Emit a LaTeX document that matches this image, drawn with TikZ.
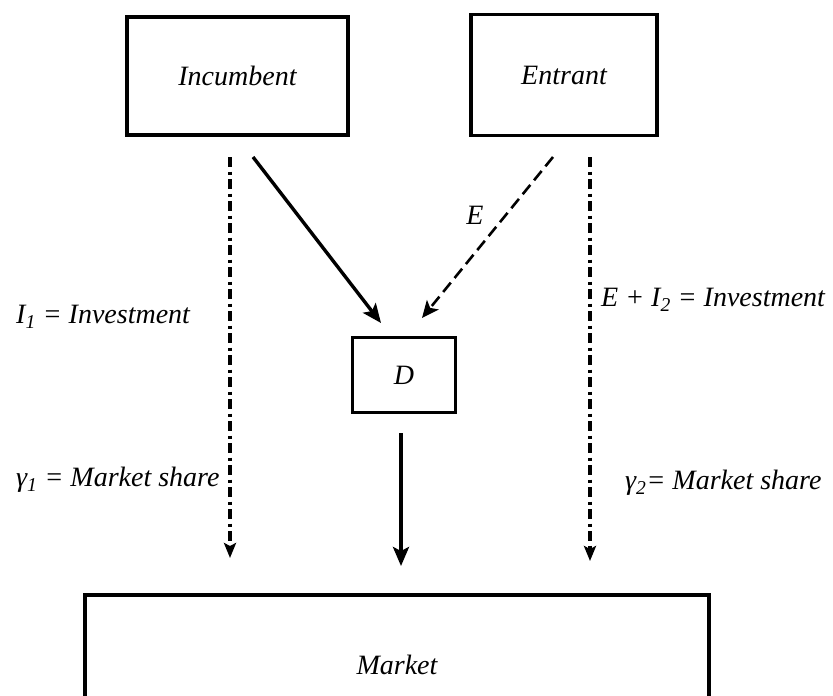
\documentclass[tikz,border=0pt]{standalone}
\usepackage{fontspec}
\setmainfont{Liberation Serif}
\usetikzlibrary{arrows.meta,positioning}

\begin{document}
\begin{tikzpicture}[>=Stealth,x=1pt,y=-1pt,font=\fontsize{28}{32}\selectfont\itshape]
 \tikzstyle{agent}=[rectangle,draw=black,line width=3.6pt,inner sep=0pt]
 \tikzstyle{flowlab}=[inner sep=0pt,anchor=west]
 \tikzstyle{flow}=[line width=3.4pt,-{Stealth[length=19pt,width=16pt,inset=4pt]}]
 \tikzstyle{share}=[line width=3.2pt,dash pattern=on 10pt off 4.5pt on 3pt off 4.5pt,-{Stealth[length=15pt,width=12pt,inset=3pt]}]
 \tikzstyle{entry}=[line width=2.6pt,dash pattern=on 12pt off 6pt,-{Stealth[length=17pt,width=15pt,inset=4pt]}]
 \clip (0,0) rectangle (833,696);
 \node[agent,minimum width=221pt,minimum height=118pt] (inc) at (237.5,76) {Incumbent};
 \node[agent,minimum width=186pt,minimum height=121pt] (ent) at (564,75) {Entrant};
 \node[agent,minimum width=103pt,minimum height=75pt] (dbox) at (404,375) {D};
 \node[agent,minimum width=624pt,minimum height=140pt] (market) at (397,665) {Market};
 \coordinate (shareL) at (230,157);
 \coordinate (shareLend) at (230,558);
 \coordinate (shareR) at (590,157);
 \coordinate (shareRend) at (590,561);
 \coordinate (incout) at (253,157);
 \coordinate (incin) at (381,323);
 \coordinate (entout) at (553,157);
 \coordinate (entin) at (422,318);
 \coordinate (dout) at (401,433);
 \coordinate (din) at (401,566);
 \node[flowlab] (invI) at (16,317) {I\textsubscript{1} = Investment};
 \node[flowlab] (shareI) at (16,480) {γ\textsubscript{1} = Market share};
 \node[flowlab] (invE) at (601,300) {E + I\textsubscript{2} = Investment};
 \node[flowlab] (shareE) at (625,483) {γ\textsubscript{2}= Market share};
 \node[inner sep=0pt] (elab) at (475,215) {E};
 \draw[share] (shareL) -- (shareLend);
 \draw[share] (shareR) -- (shareRend);
 \draw[flow] (incout) -- (incin);
 \draw[entry] (entout) -- (entin);
 \draw[flow] (dout) -- (din);
\end{tikzpicture}
\end{document}
